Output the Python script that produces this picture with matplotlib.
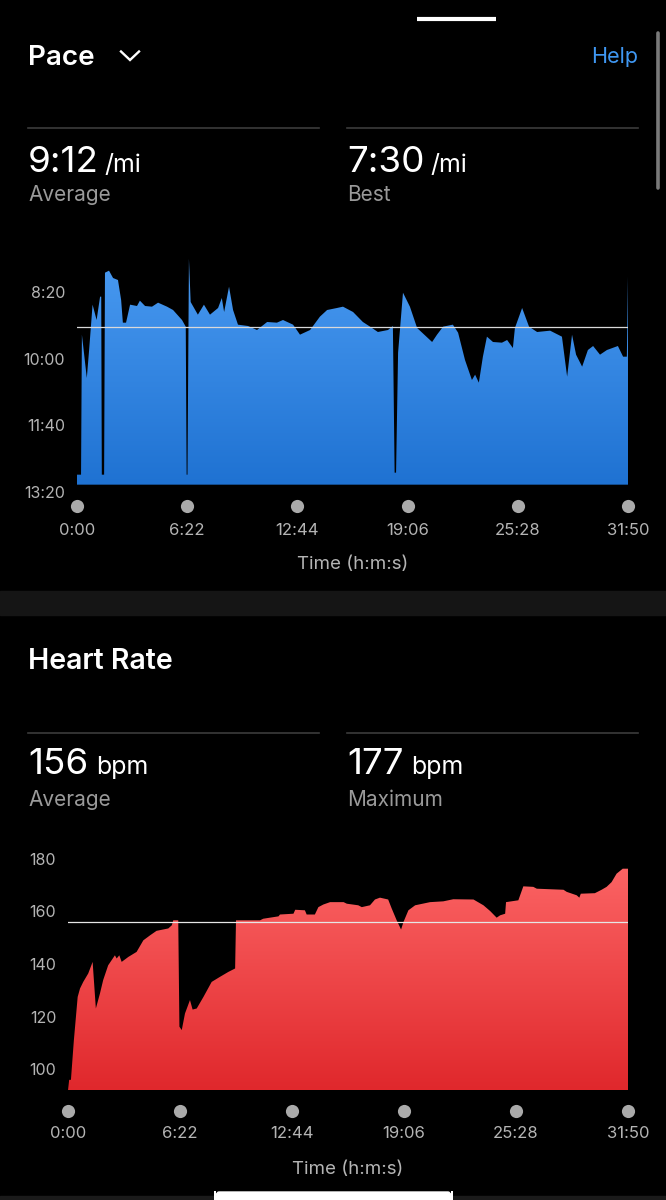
import matplotlib
matplotlib.use('Agg')
import matplotlib.pyplot as plt
import numpy as np
from matplotlib.colors import to_rgb
from matplotlib.patches import FancyBboxPatch, Rectangle
from matplotlib.lines import Line2D

W, H = 666, 1200
plt.rcParams['font.family'] = ['Inter', 'DejaVu Sans']

# ---------------- data ----------------
pace_time = [0, 14, 17, 34, 42, 54, 68, 80, 84, 86, 94, 97, 111, 125, 142, 153, 159, 170, 184, 208,
             218, 236, 260, 281, 312, 333, 364, 377, 380, 383, 388, 394, 419, 440, 461, 489, 502,
             510, 527, 541, 558, 593, 624, 659, 693, 714, 749, 773, 808, 842, 867, 901, 922, 957,
             991, 1016, 1043, 1078, 1095, 1101, 1106, 1113, 1130, 1154, 1179, 1231, 1248, 1269,
             1303, 1321, 1345, 1369, 1380, 1393, 1407, 1421, 1442, 1473, 1491, 1511, 1518, 1543,
             1567, 1595, 1640, 1681, 1699, 1716, 1730, 1751, 1771, 1789, 1813, 1837, 1875, 1893,
             1906, 1910]
pace_sec = [774, 774, 564, 629, 587, 519, 542, 507, 507, 774, 774, 471, 468, 479, 482, 512, 546, 546,
            519, 521, 513, 521, 522, 516, 522, 527, 542, 552, 774, 774, 450, 515, 534, 519, 534, 524,
            509, 530, 492, 527, 549, 551, 557, 545, 546, 542, 549, 564, 557, 537, 527, 524, 522, 530,
            545, 552, 560, 557, 551, 771, 771, 591, 501, 522, 554, 575, 564, 552, 549, 561, 602, 632,
            624, 636, 597, 567, 575, 576, 572, 584, 554, 524, 552, 560, 558, 567, 627, 564, 594, 612,
            587, 581, 594, 587, 581, 597, 597, 477]

hr_time = [0, 4, 10, 20, 33, 41, 52, 69, 84, 95, 109, 120, 137, 160, 166, 175, 183, 206, 234, 257,
           280, 302, 342, 354, 359, 376, 380, 388, 399, 416, 425, 439, 462, 490, 518, 547, 570, 573,
           655, 666, 689, 718, 723, 769, 775, 808, 814, 842, 854, 871, 894, 940, 951, 990, 1002,
           1030, 1047, 1064, 1092, 1104, 1121, 1136, 1144, 1161, 1184, 1235, 1280, 1314, 1383,
           1417, 1440, 1462, 1474, 1491, 1494, 1536, 1553, 1587, 1599, 1690, 1701, 1735, 1744,
           1749, 1797, 1820, 1837, 1854, 1871, 1892, 1910]
hr_bpm = [92, 96, 96, 111, 127.5, 130.7, 133.2, 136.4, 140.8, 123.1, 128.8, 133.9, 139.5, 143.3,
          142.1, 143.3, 140.8, 142.7, 144.6, 149, 150.9, 152.6, 153.5, 154.7, 156.6, 156.6, 116.2,
          114.9, 121.2, 126.3, 122.7, 123.1, 127.5, 133.2, 135.1, 137, 138.3, 156.6, 156.6, 157.2,
          157.6, 158.1, 158.8, 159.1, 160.6, 160.4, 158.8, 158.8, 161.6, 162.6, 163.5, 163.5, 162.9,
          162.3, 161.6, 162.3, 164.5, 165.2, 164.5, 161.1, 156.6, 153.1, 155.9, 160.4, 162.3, 163.5,
          163.8, 164.6, 164.5, 162.3, 160.1, 157.6, 158.5, 159.1, 163.5, 164.2, 169.5, 169.3, 168.6,
          168.2, 167.4, 166.1, 165.2, 166.7, 166.9, 168.2, 169.3, 171.1, 174.3, 176.2, 176.2]

x_ticks = [0, 382, 764, 1146, 1528, 1910]
x_tick_labels = ['0:00', '6:22', '12:44', '19:06', '25:28', '31:50']
pace_yticks = [500, 600, 700, 800]
hr_yticks = [100, 120, 140, 160, 180]
pace_avg = 552
pace_avg_label = '9:12'
pace_best_label = '7:30'
hr_avg = 156
hr_max = 177

# ---------------- helpers ----------------
def fx(x):
    return x / W

def fy(y):
    return 1 - y / H

def ax_rect(l, t, r, b):
    return [l / W, 1 - b / H, (r - l) / W, (b - t) / H]

fig = plt.figure(figsize=(W / 100, H / 100), dpi=100, facecolor='black')

GRAY_TXT = '#b4b4b4'
LABEL_GRAY = '#9a9a9a'


def gradient_fill(ax, x, y, base, top_val, c_top, c_bot):
    poly = ax.fill_between(x, y, base, facecolor='none', edgecolor='none')
    g = np.linspace(0, 1, 256)[:, None, None]
    ct = np.array(to_rgb(c_top))[None, None, :]
    cb = np.array(to_rgb(c_bot))[None, None, :]
    img = ct * (1 - g) + cb * g
    im = ax.imshow(img, extent=[x[0], x[-1], base, top_val], origin='upper',
                   aspect='auto', zorder=1, interpolation='bilinear')
    im.set_clip_path(poly.get_paths()[0], transform=ax.transData)


def style_axes(ax, yt, ylabels, ypad, xpad, xlabelpad):
    ax.set_facecolor('none')
    for s in ax.spines.values():
        s.set_visible(False)
    ax.set_yticks(yt, ylabels)
    ax.set_xticks(x_ticks, x_tick_labels)
    ax.tick_params(axis='y', length=0, pad=ypad, labelsize=11.5, labelcolor=GRAY_TXT)
    ax.tick_params(axis='x', length=0, pad=xpad, labelsize=12, labelcolor=GRAY_TXT)
    ax.set_xlabel('Time (h:m:s)', color=GRAY_TXT, fontsize=13.5, labelpad=xlabelpad)


def fmt_pace(v):
    return f"{int(v) // 60}:{int(v) % 60:02d}"

# ---------------- pace chart ----------------
ax1 = fig.add_axes(ax_rect(77, 250, 628, 492))
gradient_fill(ax1, pace_time, pace_sec, 789, 437, '#4a9bf2', '#1f72d2')
ax1.axhline(pace_avg, color='#d9d9d9', lw=0.9, zorder=3)
ax1.set_xlim(0, 1910)
ax1.set_ylim(800, 437)
style_axes(ax1, pace_yticks, [fmt_pace(v) for v in pace_yticks], 8.5, 22, 13)
ax1.scatter(x_ticks, [-(506 - 492) / 242] * len(x_ticks), s=90, color='#aaaaaa',
            transform=ax1.get_xaxis_transform(), clip_on=False, zorder=5, linewidths=0)

# ---------------- heart rate chart ----------------
ax2 = fig.add_axes(ax_rect(68, 840, 628, 1090))
gradient_fill(ax2, hr_time, hr_bpm, 92.14, 187.1, '#ff6b6b', '#e0282c')
ax2.axhline(hr_avg, color='#e6e6e6', lw=0.9, zorder=3)
ax2.set_xlim(0, 1910)
ax2.set_ylim(92.14, 187.1)
style_axes(ax2, hr_yticks, [str(v) for v in hr_yticks], 8.5, 26, 14)
ax2.scatter(x_ticks, [-(1111 - 1090) / 250] * len(x_ticks), s=90, color='#aaaaaa',
            transform=ax2.get_xaxis_transform(), clip_on=False, zorder=5, linewidths=0)

# ---------------- decorations ----------------
# top grabber bar
fig.add_artist(Line2D([fx(417), fx(496)], [fy(18.5), fy(18.5)], color='white', lw=3,
                      solid_capstyle='butt'))
# scrollbar
fig.add_artist(Line2D([fx(658), fx(658)], [fy(33), fy(188)], color='#7a7a7a', lw=2.6,
                      solid_capstyle='round'))
# section divider band
fig.add_artist(Rectangle((0, fy(615)), 1, (615 - 591) / H, color='#151515', transform=fig.transFigure))
# bottom band + home indicator
fig.add_artist(Rectangle((0, 0), 1, 4 / H, color='#1a1a1a', transform=fig.transFigure))
fig.add_artist(FancyBboxPatch((fx(215), fy(1204)), (452 - 215) / W, 12 / H,
                              boxstyle='round,pad=0,rounding_size=0.006', color='white',
                              transform=fig.transFigure, mutation_aspect=H / W))

# separators
for ysep in (128, 733):
    for (a, b) in ((28, 319), (347, 638)):
        fig.add_artist(Line2D([fx(a), fx(b)], [fy(ysep), fy(ysep)], color='#3c3c3c', lw=1.2))

# titles
fig.text(fx(28), fy(65), 'Pace', color='white', fontsize=20, fontweight='semibold', va='baseline')
fig.add_artist(Line2D([fx(121), fx(130), fx(139)], [fy(51.5), fy(60), fy(51.5)], color='white',
                      lw=1.7, solid_joinstyle='miter'))
fig.text(fx(638), fy(63), 'Help', color='#3f97f2', fontsize=15.5, ha='right', va='baseline')
fig.text(fx(28), fy(669), 'Heart Rate', color='white', fontsize=20.5, fontweight='semibold',
         va='baseline')

renderer = fig.canvas.get_renderer()


def value_with_unit(x, y, num, unit, unit_size, gap):
    t = fig.text(fx(x), fy(y), num, color='white', fontsize=26.5, va='baseline')
    bb = t.get_window_extent(renderer)
    fig.text(fx(bb.x1 + gap), fy(y), unit, color='white', fontsize=unit_size, va='baseline')

value_with_unit(28, 172, pace_avg_label, '/mi', 18, 6)
value_with_unit(347, 172, pace_best_label, '/mi', 18, 6)
fig.text(fx(28), fy(201), 'Average', color=LABEL_GRAY, fontsize=15, va='baseline')
fig.text(fx(347), fy(201), 'Best', color=LABEL_GRAY, fontsize=15, va='baseline')

value_with_unit(28, 774, str(hr_avg), 'bpm', 18, 8)
value_with_unit(347, 774, str(hr_max), 'bpm', 18, 8)
fig.text(fx(28), fy(806), 'Average', color=LABEL_GRAY, fontsize=15, va='baseline')
fig.text(fx(347), fy(806), 'Maximum', color=LABEL_GRAY, fontsize=15, va='baseline')

fig.savefig('out.png', dpi=100, facecolor='black')
